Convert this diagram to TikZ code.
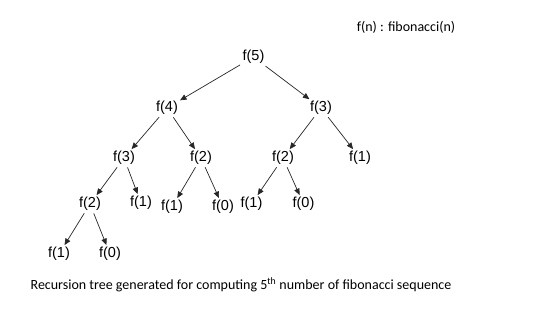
\documentclass[tikz,border=0pt]{standalone}
\usepackage{fontspec}
\setmainfont{Liberation Sans}
\newfontfamily\notefont{Carlito}
\usetikzlibrary{arrows.meta}

\begin{document}
\begin{tikzpicture}[
  x=1pt, y=-1pt,
  call/.style={inner sep=1.5pt, font=\fontsize{14.5}{16}\selectfont},
  note/.style={inner sep=0pt, font=\notefont\fontsize{14}{16}\selectfont},
  arrow/.style={-{Triangle[length=6.5pt, width=5.5pt]}, draw=black!85, line width=0.7pt,
                shorten <=1pt, shorten >=0.5pt}
]
\useasboundingbox (0,0) rectangle (550,315);
\node[note] (legend) at (406,27) {f(n) : fibonacci(n)};
\node[call] (n5) at (253.5,57) {f(5)};
\node[call] (n4) at (167,108) {f(4)};
\node[call] (n3r) at (321,108) {f(3)};
\node[call] (n3) at (124,158) {f(3)};
\node[call] (n2) at (201,158) {f(2)};
\node[call] (n2r) at (283,158) {f(2)};
\node[call] (n1r) at (360,158) {f(1)};
\node[call] (n2l) at (90,204) {f(2)};
\node[call] (n1a) at (141,203) {f(1)};
\node[call] (n1b) at (172,207) {f(1)};
\node[call] (n0a) at (223,207) {f(0)};
\node[call] (n1c) at (251.5,204) {f(1)};
\node[call] (n0b) at (303.5,204) {f(0)};
\node[call] (n1d) at (59,254) {f(1)};
\node[call] (n0c) at (110,254) {f(0)};
\node[note] (caption) at (241,285) {Recursion tree generated for computing 5\textsuperscript{th} number of fibonacci sequence};
\draw[arrow] (n5) -- (n4);
\draw[arrow] (n5) -- (n3r);
\draw[arrow] (n4) -- (n3);
\draw[arrow] (n4) -- (n2);
\draw[arrow] (n3r) -- (n2r);
\draw[arrow] (n3r) -- (n1r);
\draw[arrow] (n3) -- (n2l);
\draw[arrow] (n3) -- (n1a);
\draw[arrow] (n2) -- (n1b);
\draw[arrow] (n2) -- (n0a);
\draw[arrow] (n2r) -- (n1c);
\draw[arrow] (n2r) -- (n0b);
\draw[arrow] (n2l) -- (n1d);
\draw[arrow] (n2l) -- (n0c);
\end{tikzpicture}
\end{document}
